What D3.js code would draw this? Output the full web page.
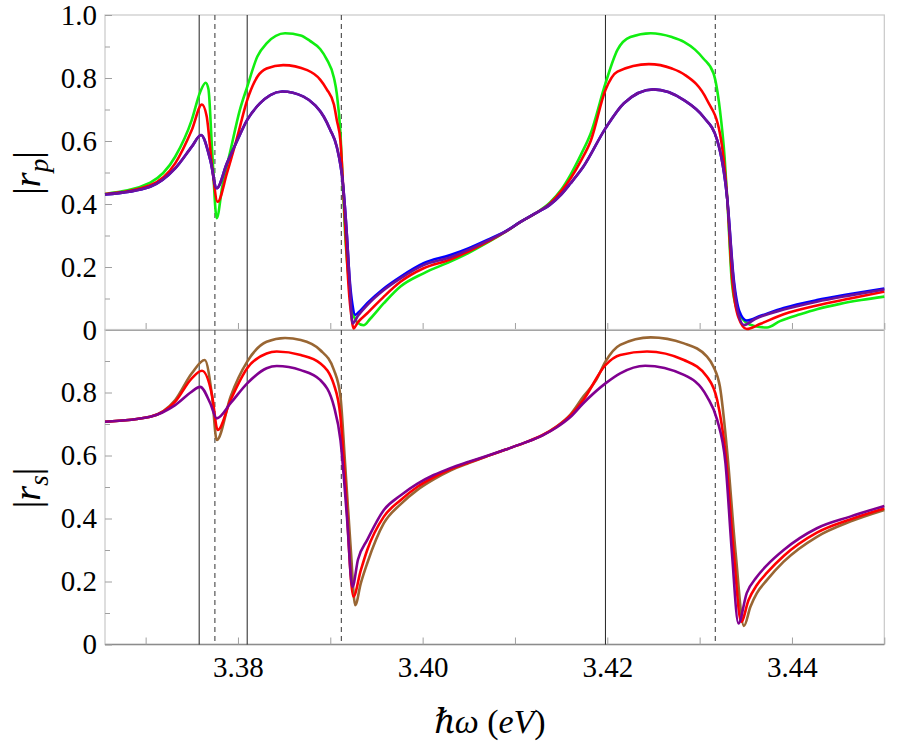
<!DOCTYPE html>
<html>
<head>
<meta charset="utf-8">
<script src="https://cdn.jsdelivr.net/npm/d3@7"></script>
<style>
	body { margin: 0; background: #fff; }
	svg { display: block; }
	svg text { font-family: "Times New Roman", Times, Tinos, "Liberation Serif", "Nimbus Roman", "Noto Serif", "DejaVu Serif", FreeSerif, serif; }
</style>
</head>
<body>
<div id="chart"></div>
<script>
// |r_p| curves, [energy (eV), value]
var rpGreen = [
	[3.3656,0.432],[3.3705,0.468],[3.3732,0.550],[3.3750,0.667],[3.3759,0.755],[3.3765,0.785],
	[3.3768,0.765],[3.3772,0.571],[3.3777,0.355],[3.3783,0.455],[3.3792,0.571],[3.3802,0.698],
	[3.3810,0.772],[3.3821,0.868],[3.3831,0.910],[3.3851,0.942],[3.3868,0.935],[3.3878,0.918],
	[3.3889,0.892],[3.3896,0.860],[3.3904,0.800],[3.3907,0.751],[3.3911,0.624],[3.3913,0.500],
	[3.3916,0.307],[3.3920,0.160],[3.3924,0.060],[3.3929,0.025],[3.3936,0.015],[3.3943,0.035],
	[3.3958,0.085],[3.3976,0.138],[3.4001,0.180],[3.4030,0.217],[3.4050,0.245],[3.4070,0.277],
	[3.4090,0.312],[3.4106,0.343],[3.4122,0.370],[3.4138,0.405],[3.4150,0.445],[3.4160,0.492],
	[3.4172,0.560],[3.4182,0.624],[3.4198,0.783],[3.4211,0.889],[3.4225,0.930],[3.4247,0.942],
	[3.4270,0.930],[3.4283,0.915],[3.4295,0.890],[3.4304,0.862],[3.4315,0.815],[3.4322,0.698],
	[3.4327,0.550],[3.4330,0.413],[3.4335,0.149],[3.4341,0.060],[3.4350,0.025],[3.4360,0.012],
	[3.4373,0.008],[3.4387,0.028],[3.4409,0.050],[3.4427,0.066],[3.4452,0.083],[3.4475,0.095],
	[3.4500,0.106]
];
var rpRed = [
	[3.3656,0.432],[3.3705,0.460],[3.3732,0.529],[3.3750,0.635],[3.3761,0.716],[3.3766,0.680],
	[3.3772,0.518],[3.3778,0.407],[3.3788,0.497],[3.3799,0.610],[3.3810,0.730],[3.3821,0.804],
	[3.3831,0.830],[3.3849,0.841],[3.3875,0.825],[3.3889,0.795],[3.3896,0.765],[3.3904,0.715],
	[3.3907,0.667],[3.3911,0.600],[3.3914,0.450],[3.3917,0.280],[3.3920,0.130],[3.3923,0.040],
	[3.3925,0.005],[3.3930,0.025],[3.3940,0.053],[3.3958,0.106],[3.3976,0.153],[3.4001,0.196],
	[3.4030,0.224],[3.4050,0.250],[3.4070,0.280],[3.4090,0.312],[3.4106,0.343],[3.4122,0.370],
	[3.4138,0.402],[3.4150,0.440],[3.4160,0.480],[3.4172,0.540],[3.4182,0.600],[3.4198,0.762],
	[3.4211,0.820],[3.4245,0.844],[3.4270,0.830],[3.4283,0.812],[3.4308,0.730],[3.4322,0.624],
	[3.4330,0.413],[3.4335,0.170],[3.4342,0.040],[3.4351,0.003],[3.4366,0.020],[3.4391,0.050],
	[3.4427,0.078],[3.4463,0.100],[3.4500,0.122]
];
var rpBlue = [
	[3.3656,0.430],[3.3705,0.455],[3.3732,0.513],[3.3750,0.582],[3.3760,0.619],[3.3770,0.540],
	[3.3777,0.450],[3.3788,0.529],[3.3799,0.600],[3.3810,0.667],[3.3824,0.720],[3.3835,0.746],
	[3.3848,0.757],[3.3871,0.741],[3.3884,0.712],[3.3893,0.677],[3.3900,0.635],[3.3907,0.582],
	[3.3914,0.455],[3.3918,0.300],[3.3921,0.160],[3.3924,0.080],[3.3927,0.048],[3.3932,0.060],
	[3.3940,0.085],[3.3958,0.132],[3.3976,0.169],[3.4001,0.212],[3.4030,0.238],[3.4050,0.260],
	[3.4070,0.286],[3.4090,0.314],[3.4106,0.343],[3.4122,0.370],[3.4138,0.398],[3.4150,0.430],
	[3.4160,0.465],[3.4174,0.518],[3.4198,0.640],[3.4218,0.720],[3.4250,0.764],[3.4283,0.730],
	[3.4304,0.677],[3.4319,0.603],[3.4330,0.413],[3.4337,0.160],[3.4343,0.060],[3.4351,0.030],
	[3.4366,0.045],[3.4391,0.070],[3.4427,0.095],[3.4463,0.114],[3.4500,0.132]
];
var rpPurple = [
	[3.3656,0.430],[3.3705,0.455],[3.3732,0.513],[3.3750,0.582],[3.3760,0.619],[3.3770,0.540],
	[3.3777,0.450],[3.3788,0.529],[3.3799,0.600],[3.3810,0.667],[3.3824,0.720],[3.3835,0.746],
	[3.3848,0.757],[3.3871,0.741],[3.3884,0.712],[3.3893,0.677],[3.3900,0.635],[3.3907,0.582],
	[3.3914,0.455],[3.3918,0.300],[3.3921,0.150],[3.3924,0.021],[3.3930,0.045],[3.3940,0.079],
	[3.3958,0.127],[3.3976,0.164],[3.4001,0.206],[3.4030,0.231],[3.4050,0.255],[3.4070,0.283],
	[3.4090,0.313],[3.4106,0.343],[3.4122,0.370],[3.4138,0.398],[3.4150,0.430],[3.4160,0.465],
	[3.4174,0.518],[3.4198,0.640],[3.4218,0.720],[3.4250,0.764],[3.4283,0.730],[3.4304,0.677],
	[3.4319,0.603],[3.4330,0.413],[3.4337,0.148],[3.4342,0.050],[3.4348,0.016],[3.4360,0.035],
	[3.4391,0.065],[3.4427,0.090],[3.4463,0.110],[3.4500,0.129]
];

// |r_s| curves
var rsBrown = [
	[3.3656,0.707],[3.3705,0.723],[3.3732,0.776],[3.3750,0.861],[3.3764,0.903],[3.3772,0.787],
	[3.3777,0.649],[3.3792,0.787],[3.3810,0.898],[3.3831,0.961],[3.3851,0.973],[3.3868,0.967],
	[3.3889,0.935],[3.3904,0.871],[3.3911,0.787],[3.3916,0.575],[3.3922,0.310],[3.3927,0.125],
	[3.3933,0.194],[3.3940,0.258],[3.3958,0.385],[3.3976,0.445],[3.3994,0.490],[3.4012,0.524],
	[3.4030,0.552],[3.4050,0.576],[3.4070,0.598],[3.4090,0.619],[3.4110,0.640],[3.4130,0.665],
	[3.4145,0.692],[3.4160,0.730],[3.4174,0.787],[3.4188,0.840],[3.4198,0.898],[3.4214,0.951],
	[3.4247,0.975],[3.4283,0.956],[3.4308,0.914],[3.4315,0.882],[3.4322,0.818],[3.4330,0.607],
	[3.4339,0.290],[3.4348,0.059],[3.4355,0.120],[3.4362,0.163],[3.4373,0.205],[3.4391,0.263],
	[3.4427,0.342],[3.4463,0.390],[3.4500,0.427]
];
var rsRed = [
	[3.3656,0.707],[3.3705,0.723],[3.3732,0.771],[3.3750,0.845],[3.3761,0.869],[3.3772,0.790],
	[3.3778,0.681],[3.3792,0.776],[3.3810,0.877],[3.3831,0.924],[3.3842,0.930],[3.3868,0.919],
	[3.3889,0.893],[3.3904,0.824],[3.3911,0.723],[3.3916,0.522],[3.3925,0.152],[3.3933,0.235],
	[3.3940,0.300],[3.3958,0.406],[3.3976,0.458],[3.3994,0.500],[3.4012,0.531],[3.4030,0.556],
	[3.4050,0.578],[3.4070,0.598],[3.4090,0.619],[3.4110,0.640],[3.4130,0.665],[3.4145,0.691],
	[3.4160,0.727],[3.4174,0.776],[3.4198,0.887],[3.4214,0.919],[3.4243,0.930],[3.4283,0.903],
	[3.4308,0.850],[3.4319,0.776],[3.4328,0.607],[3.4337,0.290],[3.4345,0.072],[3.4353,0.141],
	[3.4362,0.189],[3.4373,0.228],[3.4391,0.281],[3.4427,0.355],[3.4463,0.397],[3.4500,0.432]
];
var rsPurple = [
	[3.3656,0.707],[3.3705,0.723],[3.3732,0.760],[3.3750,0.803],[3.3759,0.818],[3.3770,0.766],
	[3.3777,0.718],[3.3792,0.766],[3.3810,0.829],[3.3831,0.877],[3.3842,0.884],[3.3868,0.871],
	[3.3889,0.840],[3.3904,0.755],[3.3911,0.649],[3.3918,0.406],[3.3924,0.183],[3.3930,0.270],
	[3.3940,0.332],[3.3958,0.427],[3.3976,0.473],[3.3994,0.510],[3.4012,0.538],[3.4030,0.560],
	[3.4050,0.580],[3.4070,0.599],[3.4090,0.619],[3.4110,0.640],[3.4130,0.664],[3.4145,0.689],
	[3.4160,0.722],[3.4174,0.766],[3.4198,0.829],[3.4214,0.861],[3.4241,0.885],[3.4283,0.856],
	[3.4308,0.787],[3.4319,0.713],[3.4328,0.575],[3.4335,0.290],[3.4342,0.067],[3.4351,0.163],
	[3.4362,0.215],[3.4373,0.252],[3.4391,0.300],[3.4427,0.369],[3.4463,0.406],[3.4500,0.440]
];

var solidMarks = [3.3758, 3.3810, 3.4198];
var dashedMarks = [3.3775, 3.3912, 3.4317];

var xTicks = [3.37, 3.38, 3.39, 3.40, 3.41, 3.42, 3.43, 3.44, 3.45];
var xLabels = [3.38, 3.40, 3.42, 3.44];
var yMajor = [0, 0.2, 0.4, 0.6, 0.8, 1.0];
var yMinor = [0.1, 0.3, 0.5, 0.7, 0.9];

var width = 900, height = 750;
var left = 105, right = 884.3;
var serif = '"Times New Roman", Times, Tinos, "Liberation Serif", "Nimbus Roman", "Noto Serif", "DejaVu Serif", FreeSerif, serif';

var x = d3.scaleLinear().domain([3.3656, 3.45]).range([left, right]);
var yTop = d3.scaleLinear().domain([0, 1]).range([330, 15]);
var yBot = d3.scaleLinear().domain([0, 1]).range([644.5, 329.5]);

var svg = d3.select('#chart').append('svg')
	.attr('width', width).attr('height', height);

function fmtY(d) { return d === 0 ? '0' : d3.format('.1f')(d); }

function drawFrame(y, labelTop)
{
	svg.append('rect')
		.attr('x', left).attr('y', y(1))
		.attr('width', right - left).attr('height', y(0) - y(1))
		.attr('fill', 'none').attr('stroke', '#c8c8c8').attr('stroke-width', 1.2);
	svg.append('line')
		.attr('x1', left).attr('x2', right).attr('y1', y(0)).attr('y2', y(0))
		.attr('stroke', '#8c8c8c').attr('stroke-width', 1.4);

	var major = svg.append('g').attr('transform', 'translate(' + left + ',0)')
		.call(d3.axisLeft(y).tickValues(labelTop ? yMajor : yMajor.slice(0, 5))
			.tickSize(-7).tickPadding(8).tickFormat(fmtY));
	var minor = svg.append('g').attr('transform', 'translate(' + left + ',0)')
		.call(d3.axisLeft(y).tickValues(yMinor).tickSize(-5).tickFormat(''));
	[major, minor].forEach(function(g) {
		g.attr('font-family', null);
		g.select('.domain').remove();
		g.selectAll('line').attr('stroke', '#a0a0a0');
		g.selectAll('text').attr('font-size', 29).attr('fill', '#000')
			.style('font-family', serif);
	});

	var xa = svg.append('g').attr('transform', 'translate(0,' + y(0) + ')')
		.call(d3.axisBottom(x).tickValues(xTicks).tickSize(-7).tickFormat(''));
	xa.select('.domain').remove();
	xa.selectAll('line').attr('stroke', '#a0a0a0');
}

drawFrame(yTop, true);
drawFrame(yBot, false);

// x tick labels under the lower panel
var xl = svg.append('g').attr('transform', 'translate(0,' + yBot(0) + ')')
	.call(d3.axisBottom(x).tickValues(xLabels).tickSize(0).tickPadding(12)
		.tickFormat(d3.format('.2f')));
xl.attr('font-family', null);
xl.select('.domain').remove();
xl.selectAll('text').attr('font-size', 29).attr('fill', '#000')
	.style('font-family', serif);

// resonance markers
svg.selectAll('line.solidmark').data(solidMarks).enter().append('line')
	.attr('class', 'solidmark')
	.attr('x1', function(d) { return x(d); }).attr('x2', function(d) { return x(d); })
	.attr('y1', yTop(1)).attr('y2', yBot(0))
	.attr('stroke', '#222').attr('stroke-width', 1);
svg.selectAll('line.dashmark').data(dashedMarks).enter().append('line')
	.attr('class', 'dashmark')
	.attr('x1', function(d) { return x(d); }).attr('x2', function(d) { return x(d); })
	.attr('y1', yTop(1)).attr('y2', yBot(0))
	.attr('stroke', '#555').attr('stroke-width', 1.2).attr('stroke-dasharray', '5,4');

function drawCurve(data, y, color)
{
	var line = d3.line()
		.x(function(d) { return x(d[0]); })
		.y(function(d) { return y(d[1]); })
		.curve(d3.curveMonotoneX);
	svg.append('path').datum(data)
		.attr('d', line)
		.attr('fill', 'none')
		.attr('stroke', color)
		.attr('stroke-width', 2.6)
		.attr('stroke-linejoin', 'round');
}

drawCurve(rpGreen, yTop, '#11ee11');
drawCurve(rpRed, yTop, '#ff0000');
drawCurve(rpBlue, yTop, '#0000ff');
drawCurve(rpPurple, yTop, '#6f0f9a');

drawCurve(rsBrown, yBot, '#996633');
drawCurve(rsRed, yBot, '#ff0000');
drawCurve(rsPurple, yBot, '#800090');

// axis titles
function yTitle(cx, cy, sub)
{
	var t = svg.append('text')
		.attr('transform', 'translate(' + cx + ',' + cy + ') rotate(-90)')
		.attr('text-anchor', 'middle')
		.attr('font-size', 38)
		.style('font-family', serif);
	t.append('tspan').text('|');
	t.append('tspan').attr('font-style', 'italic').text('r');
	t.append('tspan').attr('font-style', 'italic').attr('font-size', 27).attr('dy', 8).text(sub);
	t.append('tspan').attr('dy', -8).text('|');
}
yTitle(40, 173, 'p');
yTitle(40, 488, 's');

var xt = svg.append('text')
	.attr('x', 490).attr('y', 733)
	.attr('text-anchor', 'middle')
	.attr('font-size', 34)
	.style('font-family', serif);
xt.append('tspan').attr('font-style', 'italic').text('\u210F\u03C9');
xt.append('tspan').text(' (');
xt.append('tspan').attr('font-style', 'italic').text('eV');
xt.append('tspan').text(')');
</script>
</body>
</html>
